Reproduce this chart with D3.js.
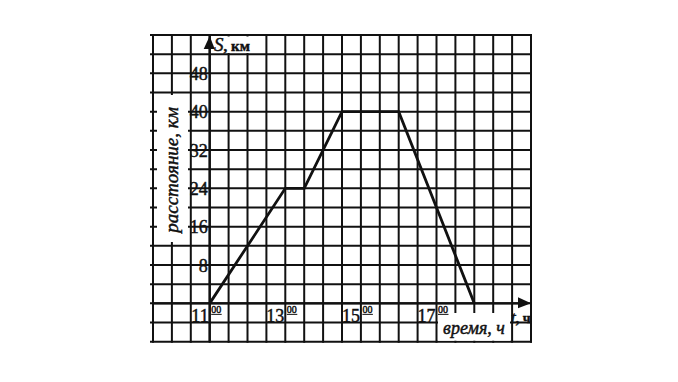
<!DOCTYPE html>
<html>
<head>
<meta charset="utf-8">
<script src="https://cdn.jsdelivr.net/npm/d3@7"></script>
<style>
  html, body { margin: 0; padding: 0; background: #fff; }
  svg { display: block; }
  text { font-family: "Liberation Serif", "DejaVu Serif", serif; fill: #111; stroke: #111; stroke-width: 0.45px; }
</style>
</head>
<body>
<svg id="chart" width="678" height="382"></svg>
<script>
// ---- data ----
const times = [11, 13, 13.5, 14.5, 16, 18];
const distances = [0, 24, 24, 40, 40, 0];
const yTickLabels = [8, 16, 24, 32, 40, 48];
const xTickLabels = [11, 13, 15, 17];
const xTickSup = "00";
const yAxisTitle = "расстояние, км";
const xAxisTitle = "время, ч";
const yUnit = ", км";
const xUnit = ", ч";

// ---- layout ----
const svg = d3.select("#chart");
const x = d3.scaleLinear().domain([9.5, 19.5]).range([153, 531]);
const y = d3.scaleLinear().domain([-8, 56]).range([341.7, 35]);

const ink = "#111";
const gridW = 2;

// grid
const xGrid = d3.range(9.5, 19.5001, 0.5);
const yGrid = d3.range(-8, 56.001, 4);
const g = svg.append("g");
g.selectAll("line.v").data(xGrid).join("line")
  .attr("x1", d => x(d)).attr("x2", d => x(d))
  .attr("y1", y(56) - 1).attr("y2", y(-8) + 1)
  .attr("stroke", ink).attr("stroke-width", gridW);
g.selectAll("line.h").data(yGrid).join("line")
  .attr("y1", d => y(d)).attr("y2", d => y(d))
  .attr("x1", x(9.5) - 3).attr("x2", x(19.5) + 1)
  .attr("stroke", ink).attr("stroke-width", gridW);

// white boxes for titles
svg.append("rect").attr("x", 157).attr("y", 95).attr("width", 31).attr("height", 147).attr("fill", "#fff");
svg.append("rect").attr("x", 213).attr("y", 36.5).attr("width", 46).attr("height", 16.5).attr("fill", "#fff");
svg.append("rect").attr("x", 438).attr("y", 313).attr("width", 72).attr("height", 27.7).attr("fill", "#fff");

// axes (thicker)
svg.append("line").attr("x1", x(11)).attr("x2", x(11)).attr("y1", y(56)).attr("y2", y(-8))
  .attr("stroke", ink).attr("stroke-width", 2.3);
svg.append("line").attr("x1", x(9.5)).attr("x2", x(19.5) - 4).attr("y1", y(0)).attr("y2", y(0))
  .attr("stroke", ink).attr("stroke-width", 2.3);

// arrows
const ax = x(11), ay = y(0);
svg.append("path")
  .attr("d", `M${ax},${y(56) + 1} L${ax - 6},${y(56) + 14} L${ax + 5},${y(56) + 14} Z`)
  .attr("fill", ink);
svg.append("path")
  .attr("d", `M${x(19.5)},${ay} L${x(19.5) - 13},${ay - 6} L${x(19.5) - 13},${ay + 5} Z`)
  .attr("fill", ink);

// y tick labels
svg.selectAll("text.yt").data(yTickLabels).join("text")
  .attr("x", x(11) - 2).attr("y", d => y(d) + 6.5)
  .attr("text-anchor", "end").attr("font-size", 18)
  .text(d => d);

// x tick labels with superscript 00
const xt = svg.selectAll("g.xt").data(xTickLabels).join("g")
  .attr("transform", d => `translate(${x(d)},${y(0)})`);
xt.append("text").attr("x", -1).attr("y", 19).attr("text-anchor", "end")
  .attr("font-size", 18).text(d => d);
xt.append("text").attr("x", 1.5).attr("y", 9.5).attr("font-size", 10)
  .attr("stroke-width", 0.3).text(xTickSup);
xt.append("line").attr("x1", 1.5).attr("x2", 12).attr("y1", 11).attr("y2", 11)
  .attr("stroke", ink).attr("stroke-width", 1);

// axis titles
svg.append("text").attr("transform", `translate(${177.5},${170}) rotate(-90)`)
  .attr("text-anchor", "middle").attr("font-size", 19).attr("font-style", "italic")
  .attr("stroke-width", 0.6)
  .text(yAxisTitle);
svg.append("text").attr("x", 474).attr("y", 333.5).attr("text-anchor", "middle")
  .attr("font-size", 18).attr("font-style", "italic").attr("stroke-width", 0.6).text(xAxisTitle);

// axis unit labels
const sT = svg.append("text").attr("x", 214).attr("y", 50.5).attr("font-size", 19);
sT.append("tspan").attr("font-style", "italic").text("S");
sT.append("tspan").attr("font-size", 15).attr("font-weight", "bold").text(yUnit);
const tT = svg.append("text").attr("x", 511).attr("y", 323).attr("font-size", 17);
tT.append("tspan").attr("font-style", "italic").text("t");
tT.append("tspan").attr("font-weight", "bold").attr("font-size", 14).text(xUnit);

// data line
const line = d3.line().x((d, i) => x(times[i])).y(d => y(d));
svg.append("path").datum(distances).attr("d", line)
  .attr("fill", "none").attr("stroke", ink).attr("stroke-width", 2.8)
  .attr("stroke-linejoin", "miter");
</script>
</body>
</html>
